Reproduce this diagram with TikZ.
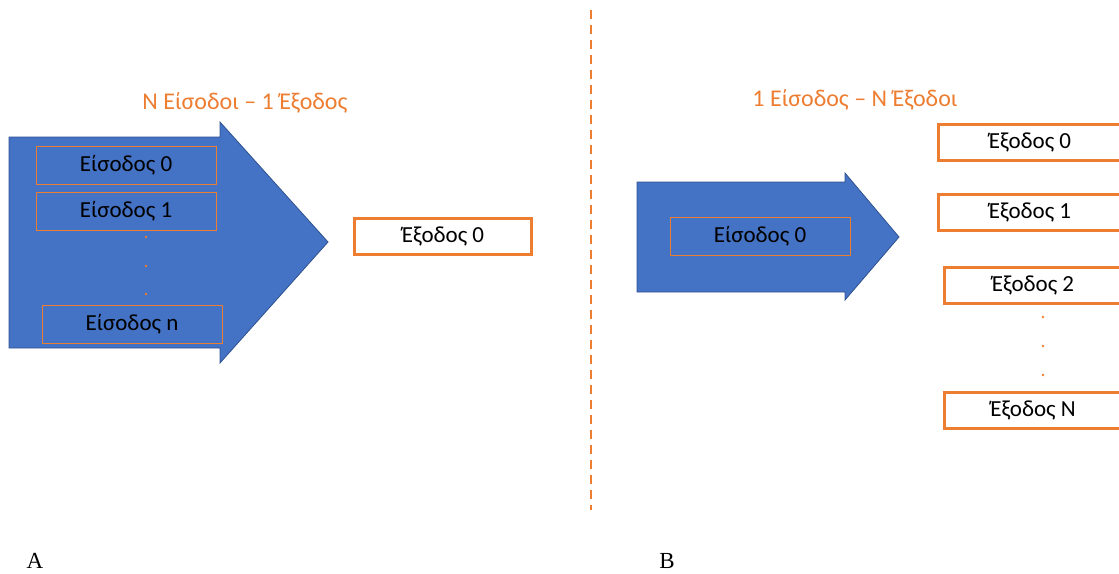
\documentclass[tikz,border=0pt]{standalone}
\usepackage{fontspec}
\setmainfont{Carlito}
\newfontfamily\serifl{Liberation Serif}
\definecolor{ablue}{HTML}{4472C4}
\definecolor{ablueb}{HTML}{2F528F}
\definecolor{aorange}{HTML}{ED7D31}
\begin{document}
\begin{tikzpicture}[x=1pt,y=-1pt,
  bigarrow/.style={fill=ablue,draw=ablueb,line width=0.8pt},
  inbox/.style={draw=aorange,line width=0.8pt,minimum width=180pt,minimum height=38pt,inner sep=0pt,font=\fontsize{23}{25}\selectfont},
  outbox/.style={draw=aorange,fill=white,line width=3pt,minimum height=36pt,inner sep=0pt,font=\fontsize{23}{25}\selectfont},
  title/.style={text=aorange,font=\fontsize{24}{26}\selectfont},
  dotmark/.style={fill=aorange,circle,inner sep=0pt,minimum size=2.6pt},
  panel/.style={font=\serifl\fontsize{23}{25}\selectfont}]
\useasboundingbox (0,0) rectangle (1119,573);
% left arrow
\path[bigarrow] (9,137) -- (220,137) -- (220,122) -- (328,242) -- (220,363) -- (220,348) -- (9,348) -- cycle;
\node[inbox] (i0) at (126,165) {Είσοδος 0};
\node[inbox] (i1) at (126,211) {Είσοδος 1};
\node[inbox] (in) at (132,324) {Είσοδος n};
\node[dotmark] (d1) at (146,237) {};
\node[dotmark] (d2) at (146,266) {};
\node[dotmark] (d3) at (146,294) {};
\node[outbox,minimum width=177pt] (o0) at (443,236) {Έξοδος 0};
\node[title] (t1) at (245,103) {N Είσοδοι – 1 Έξοδος};
% divider
\coordinate (top) at (591,10);
\coordinate (bot) at (591,510);
\draw[aorange,line width=1.2pt,dash pattern=on 9pt off 6pt] (top) -- (bot);
% right arrow
\path[bigarrow] (637,182) -- (845,182) -- (845,173) -- (899,237) -- (845,300) -- (845,292) -- (637,292) -- cycle;
\node[inbox] (j0) at (760,236) {Είσοδος 0};
\node[title] (t2) at (855,100) {1 Είσοδος – Ν Έξοδοι};
\node[outbox,minimum width=184pt] (p0) at (1030,142) {Έξοδος 0};
\node[outbox,minimum width=184pt] (p1) at (1030,212) {Έξοδος 1};
\node[outbox,minimum width=178pt] (p2) at (1033,285) {Έξοδος 2};
\node[outbox,minimum width=178pt] (pn) at (1033,410) {Έξοδος N};
\node[dotmark] (e1) at (1043,317) {};
\node[dotmark] (e2) at (1043,346) {};
\node[dotmark] (e3) at (1043,375) {};
\node[panel] (A) at (35,561) {A};
\node[panel] (B) at (667,561) {B};
\end{tikzpicture}
\end{document}
